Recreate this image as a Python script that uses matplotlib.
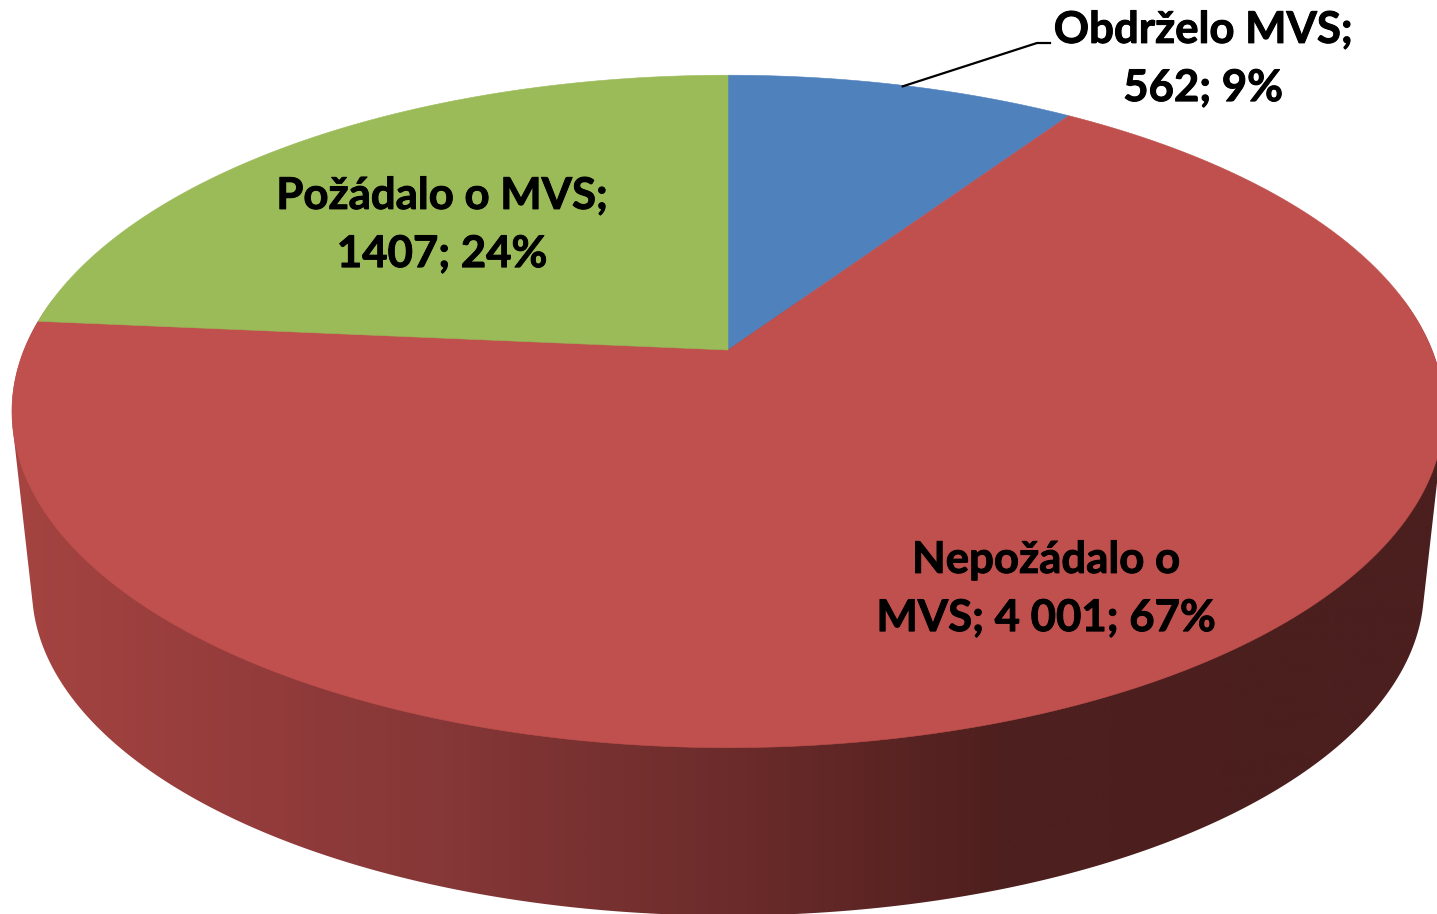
import numpy as np
import matplotlib
matplotlib.use("Agg")
import matplotlib.pyplot as plt
import matplotlib.patheffects as pe
from matplotlib.patches import Polygon
from matplotlib.colors import LinearSegmentedColormap

# Data
categories = ["Obdrželo MVS", "Nepožádalo o MVS", "Požádalo o MVS"]
values = [562, 4001, 1407]
value_labels = ["562", "4 001", "1407"]
percent_labels = ["9%", "67%", "24%"]
colors = ["#4F81BD", "#C0504D", "#9BBB59"]

W, H = 1437, 914
plt.rcParams["font.family"] = ["Lato", "DejaVu Sans"]
fig = plt.figure(figsize=(W / 100, H / 100), dpi=100)
ax = fig.add_axes([0, 0, 1, 1])
ax.set_xlim(0, W)
ax.set_ylim(H, 0)
ax.axis("off")

# Perspective projection of the pie disc
CX, K = 728, 0.1827


def project(theta, a=704.0, b=325.0, cy=350.0):
    """theta: clockwise from 12 o'clock in radians."""
    u, v = np.sin(theta), np.cos(theta)
    d = 1 + K * v
    return CX + a * u / d, cy - b * v / d


def convex_hull(pts):
    pts = sorted(map(tuple, pts))

    def half(seq):
        out = []
        for p in seq:
            while len(out) > 1 and ((out[-1][0] - out[-2][0]) * (p[1] - out[-2][1])
                                    - (out[-1][1] - out[-2][1]) * (p[0] - out[-2][0])) <= 0:
                out.pop()
            out.append(p)
        return out[:-1]

    return np.array(half(pts) + half(pts[::-1]))


SCALE = 0.972
LOW = dict(a=704.0 * SCALE, b=325.0 * SCALE, cy=529.0)

fractions = np.array(values, float) / sum(values)
edges = np.concatenate([[0], np.cumsum(fractions)]) * 2 * np.pi

# Side wall with horizontal gradient, clipped to the hull of both rims
t = np.linspace(0, 2 * np.pi, 1440, endpoint=False)
rims = np.vstack([np.column_stack(project(t)), np.column_stack(project(t, **LOW))])
wall_xy = convex_hull(rims)
stops = [(0.0, "#A54441"), (0.21, "#8F3A3A"), (0.30, "#863737"), (0.5, "#6C2C2B"),
         (0.69, "#4E1F1E"), (1.0, "#4A1F1F")]
cmap = LinearSegmentedColormap.from_list("wall", stops)
grad = np.linspace(0, 1, 512)[None, :]
im = ax.imshow(grad, cmap=cmap, extent=(12, W + 8, H + 5, 300), aspect="auto", zorder=1)
ax.set_xlim(0, W)
ax.set_ylim(H, 0)
wall = Polygon(wall_xy, closed=True, transform=ax.transData, fc="none", ec="none")
ax.add_patch(wall)
im.set_clip_path(wall)

# Top faces
for start, end, col in zip(edges[:-1], edges[1:], colors):
    th = np.linspace(start, end, 300)
    x, y = project(th)
    ax.fill(np.r_[CX, x], np.r_[350, y], fc=col, ec=col, lw=0.4, zorder=2)

# Labels
FS = 31.5
label_pos = [(1203, 59), (1046, 589), (442, 225)]
lines = [
    [f"{categories[0]};", f"{value_labels[0]}; {percent_labels[0]}"],
    ["Nepožádalo o", f"MVS; {value_labels[1]}; {percent_labels[1]}"],
    [f"{categories[2]};", f"{value_labels[2]}; {percent_labels[2]}"],
]
for (x, y), ln in zip(label_pos, lines):
    ax.text(x, y, "\n".join(ln), ha="center", va="center", fontsize=FS,
            fontweight="bold", color="black", linespacing=1.55, zorder=4,
            path_effects=[pe.withStroke(linewidth=0.7, foreground="black")])

# Leader line for the first label
mid = (edges[0] + edges[1]) / 2
lx, ly = project(mid)
ax.plot([lx, 1037, 1050], [ly + 1, 43, 43], color="black", lw=1.6, zorder=3,
        solid_joinstyle="miter")

fig.savefig("out.png", dpi=100, facecolor="white")
